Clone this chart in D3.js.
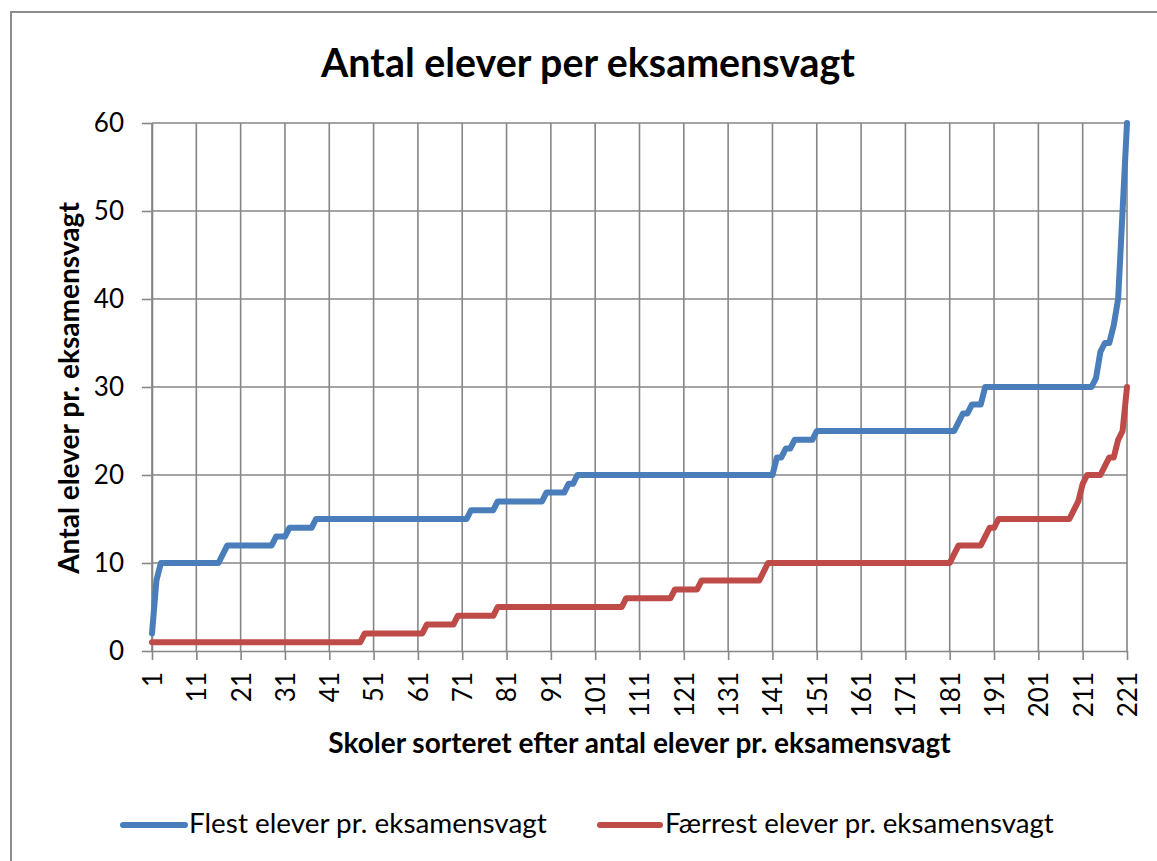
<!DOCTYPE html>
<html>
<head>
<meta charset="utf-8">
<script src="https://cdn.jsdelivr.net/npm/d3@7"></script>
<style>
    body { margin: 0; background: #fff; }
    svg { display: block; font-family: Lato, "Open Sans", sans-serif; }
</style>
</head>
<body>
<svg id="chart" width="1157" height="861"></svg>
<script>
// values, one per school (1..221)
const flest = [
    2, 8, 10, 10, 10, 10, 10, 10, 10, 10,
    10, 10, 10, 10, 10, 10, 11, 12, 12, 12,
    12, 12, 12, 12, 12, 12, 12, 12, 13, 13,
    13, 14, 14, 14, 14, 14, 14, 15, 15, 15,
    15, 15, 15, 15, 15, 15, 15, 15, 15, 15,
    15, 15, 15, 15, 15, 15, 15, 15, 15, 15,
    15, 15, 15, 15, 15, 15, 15, 15, 15, 15,
    15, 15, 16, 16, 16, 16, 16, 16, 17, 17,
    17, 17, 17, 17, 17, 17, 17, 17, 17, 18,
    18, 18, 18, 18, 19, 19, 20, 20, 20, 20,
    20, 20, 20, 20, 20, 20, 20, 20, 20, 20,
    20, 20, 20, 20, 20, 20, 20, 20, 20, 20,
    20, 20, 20, 20, 20, 20, 20, 20, 20, 20,
    20, 20, 20, 20, 20, 20, 20, 20, 20, 20,
    20, 22, 22, 23, 23, 24, 24, 24, 24, 24,
    25, 25, 25, 25, 25, 25, 25, 25, 25, 25,
    25, 25, 25, 25, 25, 25, 25, 25, 25, 25,
    25, 25, 25, 25, 25, 25, 25, 25, 25, 25,
    25, 25, 26, 27, 27, 28, 28, 28, 30, 30,
    30, 30, 30, 30, 30, 30, 30, 30, 30, 30,
    30, 30, 30, 30, 30, 30, 30, 30, 30, 30,
    30, 30, 30, 31, 34, 35, 35, 37, 40, 50,
    60
];
const faerrest = [
    1, 1, 1, 1, 1, 1, 1, 1, 1, 1,
    1, 1, 1, 1, 1, 1, 1, 1, 1, 1,
    1, 1, 1, 1, 1, 1, 1, 1, 1, 1,
    1, 1, 1, 1, 1, 1, 1, 1, 1, 1,
    1, 1, 1, 1, 1, 1, 1, 1, 2, 2,
    2, 2, 2, 2, 2, 2, 2, 2, 2, 2,
    2, 2, 3, 3, 3, 3, 3, 3, 3, 4,
    4, 4, 4, 4, 4, 4, 4, 4, 5, 5,
    5, 5, 5, 5, 5, 5, 5, 5, 5, 5,
    5, 5, 5, 5, 5, 5, 5, 5, 5, 5,
    5, 5, 5, 5, 5, 5, 5, 6, 6, 6,
    6, 6, 6, 6, 6, 6, 6, 6, 7, 7,
    7, 7, 7, 7, 8, 8, 8, 8, 8, 8,
    8, 8, 8, 8, 8, 8, 8, 8, 9, 10,
    10, 10, 10, 10, 10, 10, 10, 10, 10, 10,
    10, 10, 10, 10, 10, 10, 10, 10, 10, 10,
    10, 10, 10, 10, 10, 10, 10, 10, 10, 10,
    10, 10, 10, 10, 10, 10, 10, 10, 10, 10,
    10, 11, 12, 12, 12, 12, 12, 12, 13, 14,
    14, 15, 15, 15, 15, 15, 15, 15, 15, 15,
    15, 15, 15, 15, 15, 15, 15, 15, 16, 17,
    19, 20, 20, 20, 20, 21, 22, 22, 24, 25,
    30
];
const schools = d3.range(1, flest.length + 1);
const xTickLabels = [1, 11, 21, 31, 41, 51, 61, 71, 81, 91, 101, 111, 121, 131, 141, 151, 161, 171, 181, 191, 201, 211, 221];
const yTicks = [0, 10, 20, 30, 40, 50, 60];
const seriesNames = ['Flest elever pr. eksamensvagt', 'Færrest elever pr. eksamensvagt'];
const seriesColors = ['#4a7ebb', '#be4b48'];

const GRID = '#868686';

// shrink/grow a text's font so it spans the width measured on the picture
function fitText(sel, width) {
    const fs = parseFloat(sel.attr('font-size'));
    const len = sel.node().getComputedTextLength();
    sel.attr('font-size', fs * width / len);
}

const svg = d3.select('#chart');

// chart area frame (runs off the right and bottom edge)
svg.append('rect')
    .attr('x', 11).attr('y', 12)
    .attr('width', 1170).attr('height', 880)
    .attr('fill', '#fff')
    .attr('stroke', '#8c8c8c')
    .attr('stroke-width', 2);

const x = d3.scalePoint().domain(schools).range([152, 1127]);
const y = d3.scaleLinear().domain([0, 60]).range([651, 123]);

// gridlines
svg.append('g').selectAll('line')
    .data(yTicks.filter(d => d > 0))
    .join('line')
    .attr('x1', x(1)).attr('x2', x(221))
    .attr('y1', d => y(d)).attr('y2', d => y(d))
    .attr('stroke', GRID).attr('stroke-width', 1.6);
svg.append('g').selectAll('line')
    .data(xTickLabels)
    .join('line')
    .attr('x1', d => x(d)).attr('x2', d => x(d))
    .attr('y1', y(0)).attr('y2', y(60))
    .attr('stroke', GRID).attr('stroke-width', 1.6);

// y axis
const yAxis = svg.append('g')
    .attr('transform', `translate(${x(1)},0)`)
    .call(d3.axisLeft(y).tickValues(yTicks).tickSizeInner(10).tickSizeOuter(0).tickPadding(18));
yAxis.select('.domain').attr('stroke', GRID).attr('stroke-width', 1.6);
yAxis.selectAll('.tick line').attr('stroke', GRID).attr('stroke-width', 1.6);
yAxis.selectAll('.tick text')
    .attr('font-family', 'Lato, sans-serif')
    .attr('font-size', 26)
    .attr('fill', '#000');

// x axis
const xAxis = svg.append('g')
    .attr('transform', `translate(0,${y(0)})`)
    .call(d3.axisBottom(x).tickValues(xTickLabels).tickSizeInner(9).tickSizeOuter(0));
xAxis.select('.domain').attr('stroke', GRID).attr('stroke-width', 1.6);
xAxis.selectAll('.tick line').attr('stroke', GRID).attr('stroke-width', 1.6);
xAxis.selectAll('.tick text')
    .attr('font-family', 'Lato, sans-serif')
    .attr('font-size', 26)
    .attr('fill', '#000')
    .attr('transform', 'rotate(-90)')
    .attr('text-anchor', 'end')
    .attr('x', -21)
    .attr('y', 0)
    .attr('dy', '0.36em');

// series
const line = d3.line()
    .x((d, i) => x(schools[i]))
    .y(d => y(d));
[flest, faerrest].forEach((values, k) => {
    svg.append('path')
        .datum(values)
        .attr('d', line)
        .attr('fill', 'none')
        .attr('stroke', seriesColors[k])
        .attr('stroke-width', 6)
        .attr('stroke-linejoin', 'round')
        .attr('stroke-linecap', 'round');
});

// titles
const title = svg.append('text')
    .attr('x', 588).attr('y', 77)
    .attr('text-anchor', 'middle')
    .attr('font-weight', 'bold')
    .attr('font-size', 36)
    .text('Antal elever per eksamensvagt');
fitText(title, 534);

const yTitle = svg.append('text')
    .attr('transform', 'translate(79,388) rotate(-90)')
    .attr('text-anchor', 'middle')
    .attr('font-weight', 'bold')
    .attr('font-size', 26)
    .text('Antal elever pr. eksamensvagt');
fitText(yTitle, 372);

const xTitle = svg.append('text')
    .attr('x', 639.5).attr('y', 753)
    .attr('text-anchor', 'middle')
    .attr('font-weight', 'bold')
    .attr('font-size', 26)
    .text('Skoler sorteret efter antal elever pr. eksamensvagt');
fitText(xTitle, 623);

// legend
const legendItems = [
    { x1: 123, x2: 185, tx: 189, width: 358 },
    { x1: 600, x2: 660, tx: 665, width: 389 }
];
legendItems.forEach((item, k) => {
    svg.append('line')
        .attr('x1', item.x1).attr('x2', item.x2)
        .attr('y1', 825).attr('y2', 825)
        .attr('stroke', seriesColors[k])
        .attr('stroke-width', 6)
        .attr('stroke-linecap', 'round');
    const t = svg.append('text')
        .attr('x', item.tx).attr('y', 833)
        .attr('font-size', 25)
        .text(seriesNames[k]);
    fitText(t, item.width);
});
</script>
</body>
</html>
